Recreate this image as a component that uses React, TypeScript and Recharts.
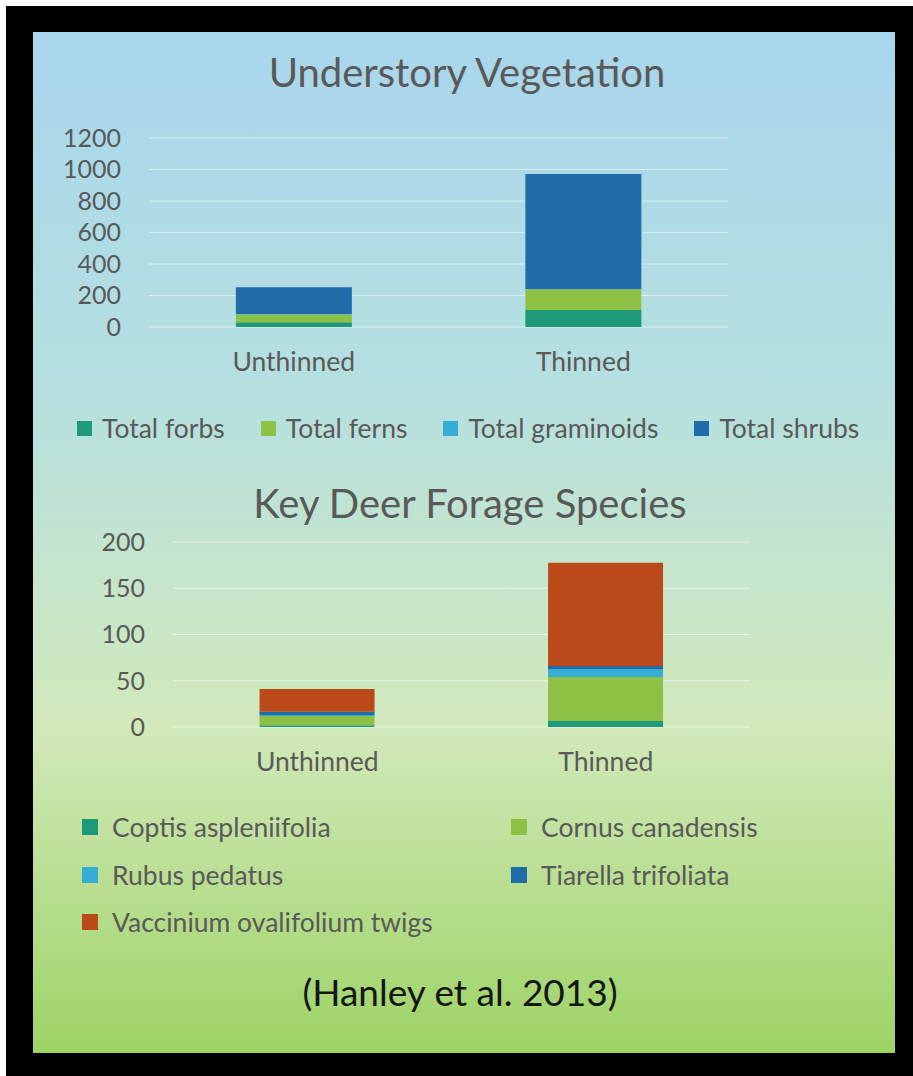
import { BarChart, Bar, XAxis, YAxis, CartesianGrid } from "recharts";

// categories on the x axis (both charts)
const CATEGORIES = ["Unthinned", "Thinned"];

// Understory Vegetation
const FORBS = [30, 108];
const FERNS = [50, 131];
const GRAMINOIDS = [2, 2];
const SHRUBS = [170, 730];
const VEG_TICKS = [0, 200, 400, 600, 800, 1000, 1200];

// Key Deer Forage Species
const COPTIS = [2, 6.5];
const CORNUS = [10, 47.5];
const RUBUS = [1, 8.5];
const TIARELLA = [3.5, 3.5];
const VACCINIUM = [24.5, 111.5];
const FORAGE_TICKS = [0, 50, 100, 150, 200];

const FONT = "Lato, 'Open Sans', sans-serif";
const TEXT = "#595959";

const VEG_SERIES = [
  { key: "forbs", name: "Total forbs", color: "#1E9A78", values: FORBS },
  { key: "ferns", name: "Total ferns", color: "#8CC146", values: FERNS },
  { key: "graminoids", name: "Total graminoids", color: "#36ADD6", values: GRAMINOIDS },
  { key: "shrubs", name: "Total shrubs", color: "#1F6CA8", values: SHRUBS },
];

const FORAGE_SERIES = [
  { key: "coptis", name: "Coptis aspleniifolia", color: "#1E9A78", values: COPTIS },
  { key: "cornus", name: "Cornus canadensis", color: "#8CC146", values: CORNUS },
  { key: "rubus", name: "Rubus pedatus", color: "#36ADD6", values: RUBUS },
  { key: "tiarella", name: "Tiarella trifoliata", color: "#1F6CA8", values: TIARELLA },
  { key: "vaccinium", name: "Vaccinium ovalifolium twigs", color: "#BA4A1A", values: VACCINIUM },
];

type Series = { key: string; name: string; color: string; values: number[] };

const toRows = (series: Series[]) =>
  CATEGORIES.map((name, i) => {
    const row: Record<string, string | number> = { name };
    series.forEach((s) => (row[s.key] = s.values[i]));
    return row;
  });

const yTick = { fill: TEXT, fontSize: 25, fontFamily: FONT };
const xTick = { fill: TEXT, fontSize: 26.5, fontFamily: FONT };

const Swatch = ({ color, size }: { color: string; size: number }) => (
  <span style={{ display: "inline-block", width: size, height: size, background: color, flex: "none" }} />
);

const StackedChart = ({
  series,
  ticks,
  top,
  height,
  margin,
}: {
  series: Series[];
  ticks: number[];
  top: number;
  height: number;
  margin: { top: number; right: number; bottom: number; left: number };
}) => (
  <div style={{ position: "absolute", left: 0, top }}>
    <BarChart width={913} height={height} data={toRows(series)} margin={margin} barCategoryGap="30%">
      <CartesianGrid vertical={false} stroke="rgba(255,255,255,0.55)" />
      <XAxis
        dataKey="name"
        axisLine={false}
        tickLine={false}
        tickSize={0}
        tickMargin={25}
        height={63}
        interval={0}
        tick={xTick}
      />
      <YAxis
        domain={[ticks[0], ticks[ticks.length - 1]]}
        ticks={ticks}
        interval={0}
        axisLine={false}
        tickLine={false}
        tickSize={0}
        tickMargin={28}
        width={60}
        tick={yTick}
      />
      {series.map((s) => (
        <Bar key={s.key} dataKey={s.key} name={s.name} stackId="a" fill={s.color} isAnimationActive={false} />
      ))}
    </BarChart>
  </div>
);

export default function App() {
  return (
    <div style={{ position: "absolute", left: 0, top: 0, width: 913, height: 1076, background: "#fff", fontFamily: FONT }}>
      <div style={{ position: "absolute", left: 6, top: 6, width: 907, height: 1070, background: "#000" }} />
      <div
        style={{
          position: "absolute",
          left: 33,
          top: 32,
          width: 862,
          height: 1021,
          background: "linear-gradient(to bottom, #A8D6EC 0%, #B6E0DF 36%, #D2E9BB 68%, #9DD365 100%)",
        }}
      />

      <div style={{ position: "absolute", left: 33, width: 868, top: 50, textAlign: "center", fontSize: 40, lineHeight: "44px", color: TEXT }}>
        Understory Vegetation
      </div>

      <StackedChart series={VEG_SERIES} ticks={VEG_TICKS} top={100} height={290} margin={{ top: 38, right: 185, bottom: 0, left: 89 }} />

      <div style={{ position: "absolute", left: 77, top: 413, display: "flex", alignItems: "center", gap: 36, fontSize: 26.5, lineHeight: "30px", color: TEXT, whiteSpace: "nowrap" }}>
        {VEG_SERIES.map((s) => (
          <span key={s.key} style={{ display: "flex", alignItems: "center", gap: 10 }}>
            <Swatch color={s.color} size={15} />
            {s.name}
          </span>
        ))}
      </div>

      <div style={{ position: "absolute", left: 33, width: 874, top: 481, textAlign: "center", fontSize: 40, lineHeight: "44px", color: TEXT }}>
        Key Deer Forage Species
      </div>

      <StackedChart series={FORAGE_SERIES} ticks={FORAGE_TICKS} top={520} height={270} margin={{ top: 22, right: 163, bottom: 0, left: 113 }} />

      <div
        style={{
          position: "absolute",
          left: 82,
          top: 812,
          display: "grid",
          gridTemplateColumns: "429px auto",
          rowGap: 17.5,
          fontSize: 26.5,
          lineHeight: "30px",
          color: TEXT,
          whiteSpace: "nowrap",
        }}
      >
        {FORAGE_SERIES.map((s) => (
          <span key={s.key} style={{ display: "flex", alignItems: "center", gap: 14 }}>
            <Swatch color={s.color} size={16} />
            {s.name}
          </span>
        ))}
      </div>

      <div style={{ position: "absolute", left: 33, width: 854, top: 970, textAlign: "center", fontSize: 37, lineHeight: "44px", color: "#151515" }}>
        (Hanley et al. 2013)
      </div>
    </div>
  );
}
